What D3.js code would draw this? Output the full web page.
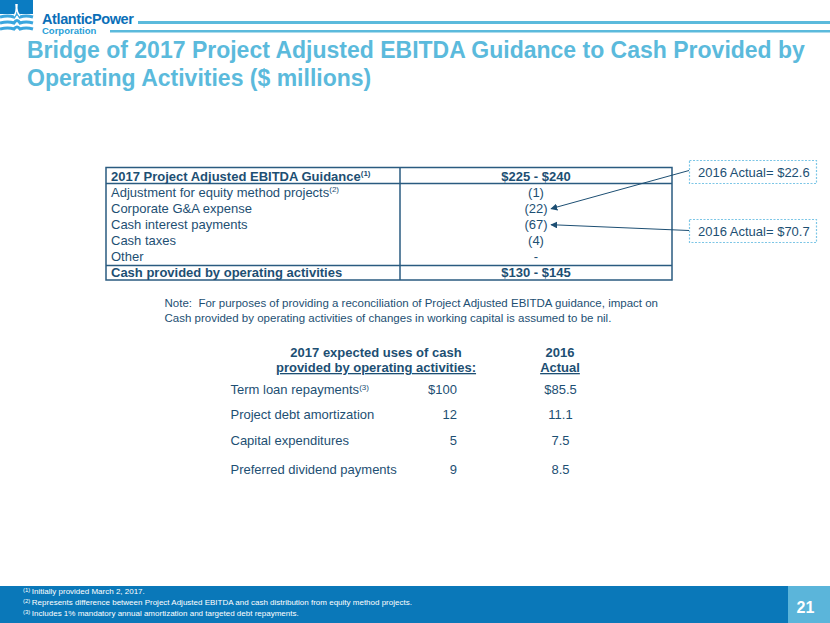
<!DOCTYPE html>
<html><head><meta charset="utf-8">
<script src="https://cdnjs.cloudflare.com/ajax/libs/d3/7.8.5/d3.min.js"></script>
<style>
html,body{margin:0;padding:0;background:#fff;}
svg{display:block;font-family:Arial,"Liberation Sans",sans-serif;}
</style></head>
<body>
<script>
// ---- data ----
const titleLines = ["Bridge of 2017 Project Adjusted EBITDA Guidance to Cash Provided by", "Operating Activities ($ millions)"];
const bridgeLabels = ["2017 Project Adjusted EBITDA Guidance", "Adjustment for equity method projects", "Corporate G&A expense", "Cash interest payments", "Cash taxes", "Other", "Cash provided by operating activities"];
const bridgeSup = ["(1)", "(2)", "", "", "", "", ""];
const bridgeValues = ["$225 - $240", "(1)", "(22)", "(67)", "(4)", "-", "$130 - $145"];
const callouts = [{text: "2016 Actual= $22.6", target: 2}, {text: "2016 Actual= $70.7", target: 3}];
const noteLines = ["Note:\u00a0\u00a0For purposes of providing a reconciliation of Project Adjusted EBITDA guidance, impact on", "Cash provided by operating activities of changes in working capital is assumed to be nil."];
const usesHeader = ["2017 expected uses of cash", "provided by operating activities:"];
const actualHeader = ["2016", "Actual"];
const usesLabels = ["Term loan repayments", "Project debt amortization", "Capital expenditures", "Preferred dividend payments"];
const usesSup = ["(3)", "", "", ""];
const uses2017 = ["$100", "12", "5", "9"];
const actual2016 = ["$85.5", "11.1", "7.5", "8.5"];
const footnotes = [["(1)", "Initially provided March 2, 2017."], ["(2)", "Represents difference between Project Adjusted EBITDA and cash distribution from equity method projects."], ["(3)", "Includes 1% mandatory annual amortization and targeted debt repayments."]];
const pageNumber = "21";

// ---- drawing ----
const W = 830, H = 623;
const svg = d3.select("body").append("svg").attr("width", W).attr("height", H);
const navy = "#1d4f73", line = "#2a5b80", lightBlue = "#5bbadc";

// logo
const logo = svg.append("g");
logo.append("rect").attr("x", 0).attr("y", 0).attr("width", 33).attr("height", 14).attr("fill", "#0b7cc2");
[17, 23, 29].forEach((y, i) => {
  logo.append("path")
    .attr("d", `M0,${y} Q8,${y-2} 14,${y} Q17,${y-6+i} 20,${y} Q26,${y-2} 33,${y}`)
    .attr("fill", "none").attr("stroke", "#3aa6de").attr("stroke-width", 3);
});
logo.append("path").attr("d", "M16,4 Q17,12 14,16 M17,4 Q16,12 20,16").attr("stroke", "#fff").attr("stroke-width", 1.5).attr("fill", "none");
logo.append("text").attr("x", 42).attr("y", 23.5).attr("font-size", 14.5).attr("font-weight", "bold").attr("fill", "#0b6fb8").attr("letter-spacing", -0.4).text("AtlanticPower");
logo.append("text").attr("x", 42).attr("y", 34).attr("font-size", 9.5).attr("font-weight", "bold").attr("fill", "#2a9fd8").text("Corporation");
svg.append("rect").attr("x", 138).attr("y", 21).attr("width", W - 138).attr("height", 3).attr("fill", lightBlue);
svg.append("rect").attr("x", 110).attr("y", 30).attr("width", W - 110).attr("height", 2.5).attr("fill", lightBlue);

// title
svg.append("g").selectAll("text").data(titleLines).join("text")
  .attr("x", 27).attr("y", (d, i) => 57.5 + i * 28)
  .attr("font-size", 23).attr("font-weight", "bold").attr("fill", lightBlue)
  .text(d => d);

// bridge table
const tX0 = 106, tX1 = 672, tDiv = 400, valX = 536;
const yRow = d3.scalePoint().domain(d3.range(bridgeLabels.length)).range([180.7, 276.7]);
const tbl = svg.append("g");
tbl.append("rect").attr("x", tX0).attr("y", 167.5).attr("width", tX1 - tX0).attr("height", 112.5)
  .attr("fill", "none").attr("stroke", line).attr("stroke-width", 1.5);
[183.5, 265.5].forEach(y => tbl.append("line").attr("x1", tX0).attr("x2", tX1).attr("y1", y).attr("y2", y).attr("stroke", line).attr("stroke-width", 1.5));
tbl.append("line").attr("x1", tDiv).attr("x2", tDiv).attr("y1", 167.5).attr("y2", 280).attr("stroke", line).attr("stroke-width", 1.5);

const isBold = i => i === 0 || i === bridgeLabels.length - 1;
const lab = tbl.selectAll("text.lab").data(bridgeLabels).join("text").attr("class", "lab")
  .attr("x", 111).attr("y", (d, i) => yRow(i))
  .attr("font-size", 13).attr("fill", navy)
  .attr("font-weight", (d, i) => isBold(i) ? "bold" : "normal");
lab.append("tspan").text(d => d);
lab.append("tspan").attr("font-size", 8).attr("dy", -4.5).text((d, i) => bridgeSup[i]);
tbl.selectAll("text.val").data(bridgeValues).join("text").attr("class", "val")
  .attr("x", valX).attr("y", (d, i) => yRow(i)).attr("text-anchor", "middle")
  .attr("font-size", 13).attr("fill", navy)
  .attr("font-weight", (d, i) => isBold(i) ? "bold" : "normal")
  .text(d => d);

// callouts
svg.append("defs").append("marker").attr("id", "ah").attr("viewBox", "0 0 10 10")
  .attr("refX", 9).attr("refY", 5).attr("markerWidth", 7).attr("markerHeight", 7).attr("orient", "auto")
  .attr("markerUnits", "userSpaceOnUse")
  .append("path").attr("d", "M0,0 L10,5 L0,10 z").attr("fill", navy);
const boxY = [160.5, 219.5];
const cg = svg.append("g");
callouts.forEach((c, i) => {
  cg.append("rect").attr("x", 689.5).attr("y", boxY[i]).attr("width", 127).attr("height", 23)
    .attr("fill", "#fff").attr("stroke", "#7cc6e6").attr("stroke-width", 1.2).attr("stroke-dasharray", "2,1.5");
  cg.append("text").attr("x", 698).attr("y", boxY[i] + 16).attr("font-size", 13).attr("fill", navy).text(c.text);
  cg.append("line").attr("x1", 689).attr("y1", boxY[i] + (i === 0 ? 10 : 11)).attr("x2", 551).attr("y2", yRow(c.target) - 4)
    .attr("stroke", navy).attr("stroke-width", 1).attr("marker-end", "url(#ah)");
});

// note
svg.append("g").selectAll("text").data(noteLines).join("text")
  .attr("x", 164.5).attr("y", (d, i) => 306.5 + i * 15.5)
  .attr("font-size", 11.5).attr("fill", navy).text(d => d);

// uses table
const ug = svg.append("g");
ug.selectAll("text.uh").data(usesHeader).join("text").attr("class", "uh")
  .attr("x", 376).attr("y", (d, i) => 357 + i * 15).attr("text-anchor", "middle")
  .attr("font-size", 13).attr("font-weight", "bold").attr("fill", navy)
  .attr("text-decoration", (d, i) => i === 1 ? "underline" : null).text(d => d);
ug.selectAll("text.ah").data(actualHeader).join("text").attr("class", "ah")
  .attr("x", 560).attr("y", (d, i) => 357 + i * 15).attr("text-anchor", "middle")
  .attr("font-size", 13).attr("font-weight", "bold").attr("fill", navy)
  .attr("text-decoration", (d, i) => i === 1 ? "underline" : null).text(d => d);
const yUse = d3.scaleOrdinal().domain(d3.range(usesLabels.length)).range([394, 419, 445, 473.5]);
const ul = ug.selectAll("text.ul").data(usesLabels).join("text").attr("class", "ul")
  .attr("x", 230.5).attr("y", (d, i) => yUse(i)).attr("font-size", 13).attr("fill", navy);
ul.append("tspan").text(d => d);
ul.append("tspan").attr("font-size", 8).attr("dy", -4.5).text((d, i) => usesSup[i]);
ug.selectAll("text.u7").data(uses2017).join("text").attr("class", "u7")
  .attr("x", 457).attr("y", (d, i) => yUse(i)).attr("text-anchor", "end")
  .attr("font-size", 13).attr("fill", navy).text(d => d);
ug.selectAll("text.u6").data(actual2016).join("text").attr("class", "u6")
  .attr("x", 560.5).attr("y", (d, i) => yUse(i)).attr("text-anchor", "middle")
  .attr("font-size", 13).attr("fill", navy).text(d => d);

// footer
svg.append("rect").attr("x", 0).attr("y", 586).attr("width", W).attr("height", H - 586).attr("fill", "#0a78b9");
svg.append("rect").attr("x", 788).attr("y", 586).attr("width", W - 788).attr("height", H - 586).attr("fill", "#5bb5da");
svg.append("text").attr("x", 805.5).attr("y", 613).attr("text-anchor", "middle").attr("font-size", 16).attr("font-weight", "bold").attr("fill", "#fff").text(pageNumber);
const fn = svg.append("g").selectAll("text").data(footnotes).join("text")
  .attr("x", 23).attr("y", (d, i) => 594 + i * 11).attr("font-size", 8).attr("fill", "#fff");
fn.append("tspan").attr("font-size", 6).attr("dy", -2).text(d => d[0]);
fn.append("tspan").attr("dy", 2).attr("dx", 1.5).text(d => d[1]);
</script>
</body></html>
